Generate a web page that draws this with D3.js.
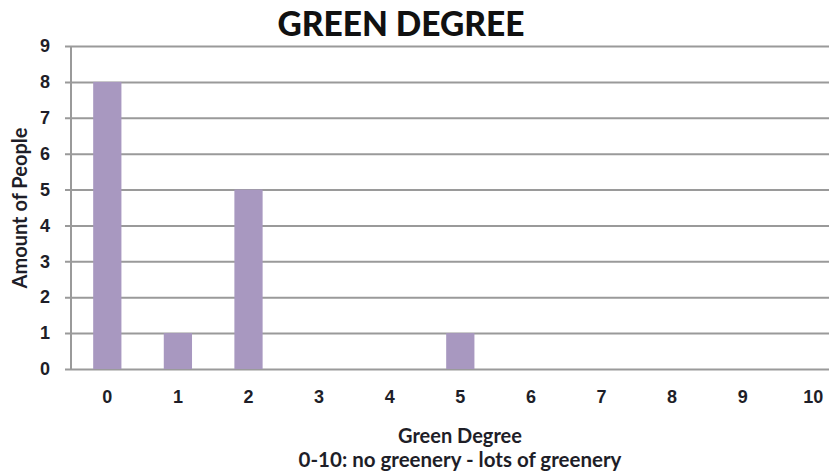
<!DOCTYPE html>
<html>
<head>
<meta charset="utf-8">
<script src="https://cdn.jsdelivr.net/npm/d3@7"></script>
<style>
  html, body { margin: 0; padding: 0; background: #fff; }
  svg { display: block; font-family: Lato, "Open Sans", sans-serif; }
</style>
</head>
<body>
<svg id="chart" width="829" height="474"></svg>
<script>
// Survey answers: how green respondents rate their surroundings
const categories = ["0", "1", "2", "3", "4", "5", "6", "7", "8", "9", "10"];
const people = [8, 1, 5, 0, 0, 1, 0, 0, 0, 0, 0];
const yTicks = [0, 1, 2, 3, 4, 5, 6, 7, 8, 9];

const chartTitle = "GREEN DEGREE";
const xTitle = "Green Degree";
const xSubtitle = "0-10: no greenery - lots of greenery";
const yTitle = "Amount of People";

const svg = d3.select("#chart");
const W = 829, H = 474;
const plotLeft = 71, plotTop = 46, plotBottom = 369;

const x = d3.scaleBand()
  .domain(categories)
  .range([plotLeft + 1, plotLeft + 1 + 70.6 * 11])
  .paddingInner(0.6)
  .paddingOuter(0.3);

const y = d3.scaleLinear().domain([0, 9]).range([plotBottom, plotTop]);

const textColor = "#1e1e28";
const gridColor = "#9a9a9a";

// horizontal gridlines with left tick stubs
const yAxis = d3.axisLeft(y)
  .tickValues(yTicks)
  .tickFormat(d3.format("d"))
  .tickSize(-(W - plotLeft))
  .tickPadding(21);

const gy = svg.append("g")
  .attr("transform", `translate(${plotLeft},0)`)
  .call(yAxis);
gy.select(".domain").attr("stroke", gridColor).attr("stroke-width", 2)
  .attr("d", `M0,${plotTop}V${plotBottom}`);
gy.selectAll(".tick line")
  .attr("stroke", gridColor)
  .attr("stroke-width", 2)
  .attr("x1", -6);
gy.selectAll(".tick text")
  .attr("fill", textColor)
  .style("font-size", "18px")
  .attr("font-weight", 700);

// bars
svg.append("g")
  .selectAll("rect")
  .data(people)
  .join("rect")
  .attr("x", (d, i) => x(categories[i]))
  .attr("y", d => y(d))
  .attr("width", x.bandwidth())
  .attr("height", d => y(0) - y(d))
  .attr("fill", "#a898c0");

// bottom axis labels (no tick marks)
const xAxis = d3.axisBottom(x).tickSize(0).tickPadding(21);
const gx = svg.append("g")
  .attr("transform", `translate(0,${plotBottom})`)
  .call(xAxis);
gx.select(".domain").remove();
gx.selectAll(".tick text")
  .attr("fill", textColor)
  .style("font-size", "18px")
  .attr("font-weight", 700);

// titles
svg.append("text")
  .attr("x", 401).attr("y", 36)
  .attr("text-anchor", "middle")
  .attr("font-size", 33.5)
  .attr("font-weight", 900)
  .attr("fill", "#111")
  .text(chartTitle);

svg.append("text")
  .attr("x", 460).attr("y", 443)
  .attr("text-anchor", "middle")
  .attr("font-size", 20)
  .attr("font-weight", 700)
  .attr("fill", textColor)
  .text(xTitle);

svg.append("text")
  .attr("x", 460).attr("y", 467)
  .attr("text-anchor", "middle")
  .attr("font-size", 20.5)
  .attr("font-weight", 700)
  .attr("fill", textColor)
  .text(xSubtitle);

svg.append("text")
  .attr("transform", `translate(27,208) rotate(-90)`)
  .attr("text-anchor", "middle")
  .attr("font-size", 20)
  .attr("font-weight", 700)
  .attr("fill", textColor)
  .text(yTitle);
</script>
</body>
</html>
